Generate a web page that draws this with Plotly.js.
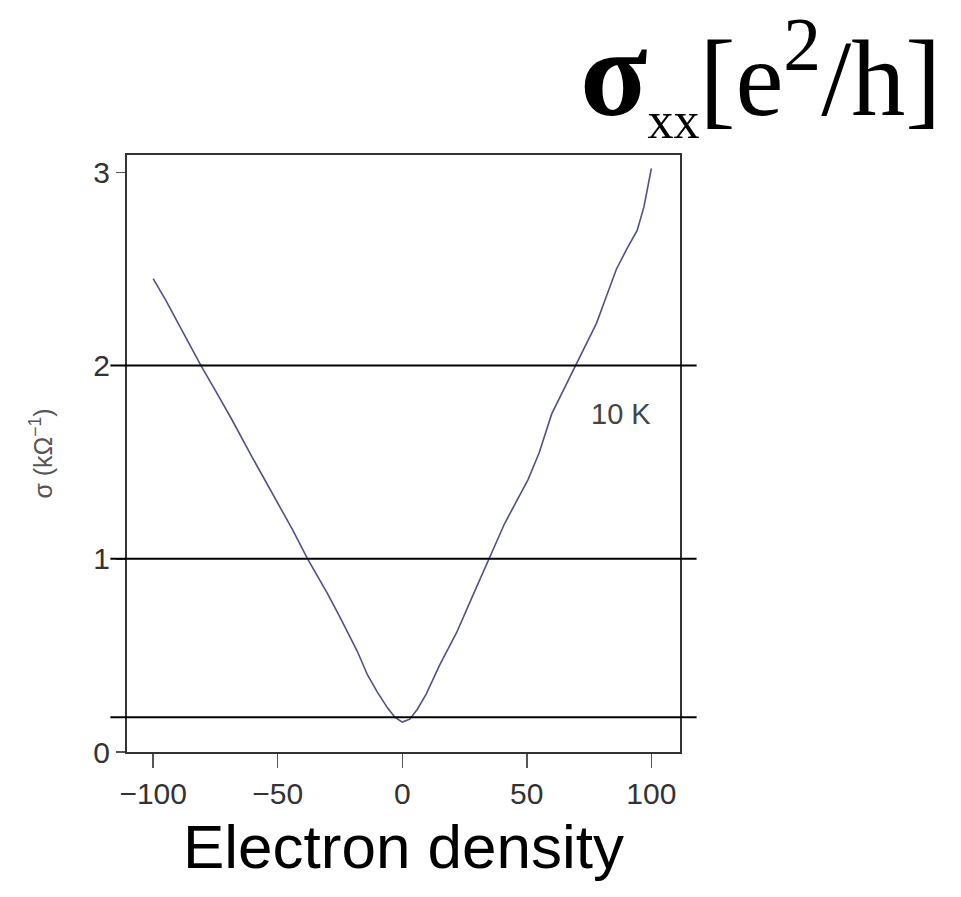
<!DOCTYPE html>
<html>
<head>
<meta charset="utf-8">
<script src="https://cdn.plot.ly/plotly-3.0.1.min.js"></script>
<style>
  html, body { margin: 0; padding: 0; background: #fff; }
  #plot { width: 961px; height: 897px; }
</style>
</head>
<body>
<div id="plot"></div>
<script>
// gate voltage / electron density (x) and conductivity sigma in kOhm^-1 (y)
var density = [-100, -95, -90, -85, -80.8, -75, -68.8, -60, -50, -44, -38, -30, -24.7, -18, -14, -10, -6, -3, 0,
               3, 6, 9.6, 15, 21.9, 28, 34.8, 41, 50.5, 55, 60, 65, 69.7, 74, 78, 82, 86, 90, 94.3, 97, 100];
var sigma = [2.45, 2.34, 2.22, 2.10, 2.0, 1.87, 1.73, 1.52, 1.29, 1.15, 1.0, 0.82, 0.69, 0.52, 0.40, 0.31, 0.23, 0.18, 0.155,
             0.17, 0.22, 0.30, 0.45, 0.62, 0.80, 1.0, 1.18, 1.41, 1.55, 1.75, 1.88, 2.0, 2.12, 2.22, 2.36, 2.50, 2.60, 2.70, 2.82, 3.02];

// levels of the horizontal guide lines (sigma_xx in e^2/h)
var guide_levels = [2, 1, 0.18];

var x_ticks = [-100, -50, 0, 50, 100];
var x_tick_text = ['\u2212100', '\u221250', '0', '50', '100'];
var y_ticks = [0, 1, 2, 3];

var trace = {
    x: density,
    y: sigma,
    type: 'scatter',
    mode: 'lines',
    line: { color: '#50508f', width: 1.6 },
    hoverinfo: 'skip'
};

var shapes = [];
for (let i = 0; i < guide_levels.length; i++) {
    shapes.push({
        type: 'line', xref: 'paper', yref: 'y',
        x0: -0.03, x1: 1.03, y0: guide_levels[i], y1: guide_levels[i],
        line: { color: '#000', width: 2 }
    });
}

var layout = {
    width: 961, height: 897,
    margin: { l: 127, r: 281, t: 155, b: 145 },
    paper_bgcolor: '#fff', plot_bgcolor: '#fff',
    showlegend: false,
    font: { family: 'Liberation Sans, Arial, sans-serif', color: '#333' },
    xaxis: {
        range: [-110.5, 111.5],
        tickmode: 'array', tickvals: x_ticks, ticktext: x_tick_text,
        ticks: 'outside', ticklen: 14, tickwidth: 1.5, tickcolor: '#555',
        tickfont: { size: 30, color: '#333' },
        showgrid: false, zeroline: false,
        showline: true, mirror: true, linecolor: '#333', linewidth: 2,
        title: { text: 'Electron density', font: { size: 62, color: '#000' }, standoff: 16 }
    },
    yaxis: {
        range: [0, 3.09],
        tickmode: 'array', tickvals: y_ticks,
        ticks: 'outside', ticklen: 9, tickwidth: 1.5, tickcolor: '#555',
        tickfont: { size: 30, color: '#333' },
        showgrid: false, zeroline: false,
        showline: true, mirror: true, linecolor: '#333', linewidth: 2,
        title: { text: '\u03c3 (k\u03a9<sup>\u22121</sup>)', font: { size: 25, color: '#555' }, standoff: 34 }
    },
    shapes: shapes,
    annotations: [
        {
            xref: 'x', yref: 'y', x: 88, y: 1.75, text: '10 K', showarrow: false,
            font: { size: 29, color: '#444' }
        },
        {
            xref: 'paper', yref: 'paper', x: 1.475, y: 1.258, xanchor: 'right', yanchor: 'top',
            text: '<span style="font-size:124px"><b>\u03c3</b></span><sub><span style="font-size:52px">xx</span></sub>[e<sup>2</sup>/h]',
            showarrow: false,
            font: { family: 'Liberation Serif, Times New Roman, serif', size: 108, color: '#000' }
        }
    ]
};

Plotly.newPlot('plot', [trace], layout, { staticPlot: true });
</script>
</body>
</html>
